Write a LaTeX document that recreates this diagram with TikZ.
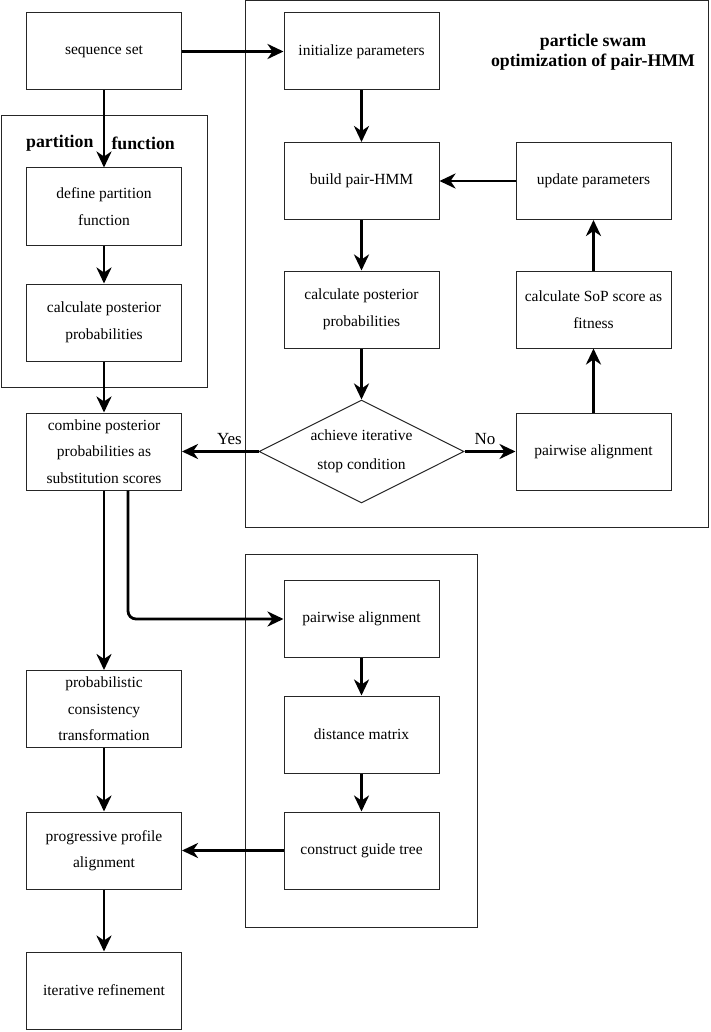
\documentclass[tikz,border=0pt]{standalone}
\usepackage{fontspec}
\setmainfont{Liberation Serif}
\usetikzlibrary{shapes.geometric,arrows.meta,positioning}
\begin{document}
\begin{tikzpicture}[x=1pt,y=-1pt,
  box/.style={draw=black!85,line width=1pt,minimum width=155pt,minimum height=77pt,inner sep=0pt,align=center,font=\fontsize{15.5}{26.5}\selectfont},
  frame/.style={draw=black!85,line width=1pt},
  arr/.style={line width=2.8pt,-{Stealth[length=16pt,width=15pt,inset=5pt]}},
  lbl/.style={font=\fontsize{17}{18}\selectfont,inner sep=0pt},
  ttl/.style={font=\bfseries\fontsize{17.8}{20.5}\selectfont,align=center,inner sep=0pt}]
\useasboundingbox (0,0) rectangle (710,1032);
% frames
\draw[frame] (1,116) rectangle (207,387);
\draw[frame] (245,1) rectangle (708,527);
\draw[frame] (245,554) rectangle (477,927);
\node[ttl,anchor=west] (t1a) at (26,143) {partition};
\node[ttl,anchor=east] (t1b) at (175,143) {function};
\node[ttl] (t2) at (593,52) {particle swam\\optimization of pair-HMM};
% left column
\node[box] (seq) at (104,51.5) {sequence set};
\node[box] (def) at (104,206.5) {define partition\\function};
\node[box] (calcL) at (104,322.5) {calculate posterior\\probabilities};
\node[box] (comb) at (104,451.5) {combine posterior\\probabilities as\\substitution scores};
\node[box] (prob) at (104,709) {probabilistic\\consistency\\transformation};
\node[box] (prog) at (104,850.5) {progressive profile\\alignment};
\node[box] (iter) at (104,990.5) {iterative refinement};
% PSO column
\node[box] (init) at (361.5,51.5) {initialize parameters};
\node[box] (build) at (361.5,181) {build pair-HMM};
\node[box] (calcR) at (361.5,309.5) {calculate posterior\\probabilities};
\node[draw=black!85,line width=1pt,diamond,minimum width=205pt,minimum height=103pt,inner sep=0pt] (dia) at (361.5,451.5) {};
\node[align=center,inner sep=0pt,font=\fontsize{15.5}{29}\selectfont] (diatext) at (dia.center) {achieve iterative\\stop condition};
\node[box] (update) at (593.5,181) {update parameters};
\node[box] (sop) at (593.5,309.5) {calculate SoP score as\\fitness};
\node[box] (pw) at (593.5,451.5) {pairwise alignment};
% bottom column
\node[box] (pw2) at (361.5,619) {pairwise alignment};
\node[box] (dist) at (361.5,734.5) {distance matrix};
\node[box] (guide) at (361.5,850.5) {construct guide tree};
% arrows
\draw[arr] (seq.east) -- (init.west);
\draw[arr] (seq.south) -- (def.north);
\draw[arr] (def.south) -- (calcL.north);
\draw[arr] (calcL.south) -- (comb.north);
\draw[arr] (init.south) -- (build.north);
\draw[arr] (build.south) -- (calcR.north);
\draw[arr] (calcR.south) -- (dia.north);
\draw[arr] (dia.east) -- node[lbl,above=5pt,pos=0.4] (no) {No} (pw.west);
\draw[arr] (pw.north) -- (sop.south);
\draw[arr] (sop.north) -- (update.south);
\draw[arr] (update.west) -- (build.east);
\draw[arr] (dia.west) -- node[lbl,above=5pt,pos=0.38] (yes) {Yes} (comb.east);
\draw[arr] (comb.south) -- (prob.north);
\draw[arr,rounded corners=8pt] ([xshift=24pt]comb.south) |- (pw2.west);
\draw[arr] (pw2.south) -- (dist.north);
\draw[arr] (dist.south) -- (guide.north);
\draw[arr] (guide.west) -- (prog.east);
\draw[arr] (prob.south) -- (prog.north);
\draw[arr] (prog.south) -- (iter.north);
\end{tikzpicture}
\end{document}
